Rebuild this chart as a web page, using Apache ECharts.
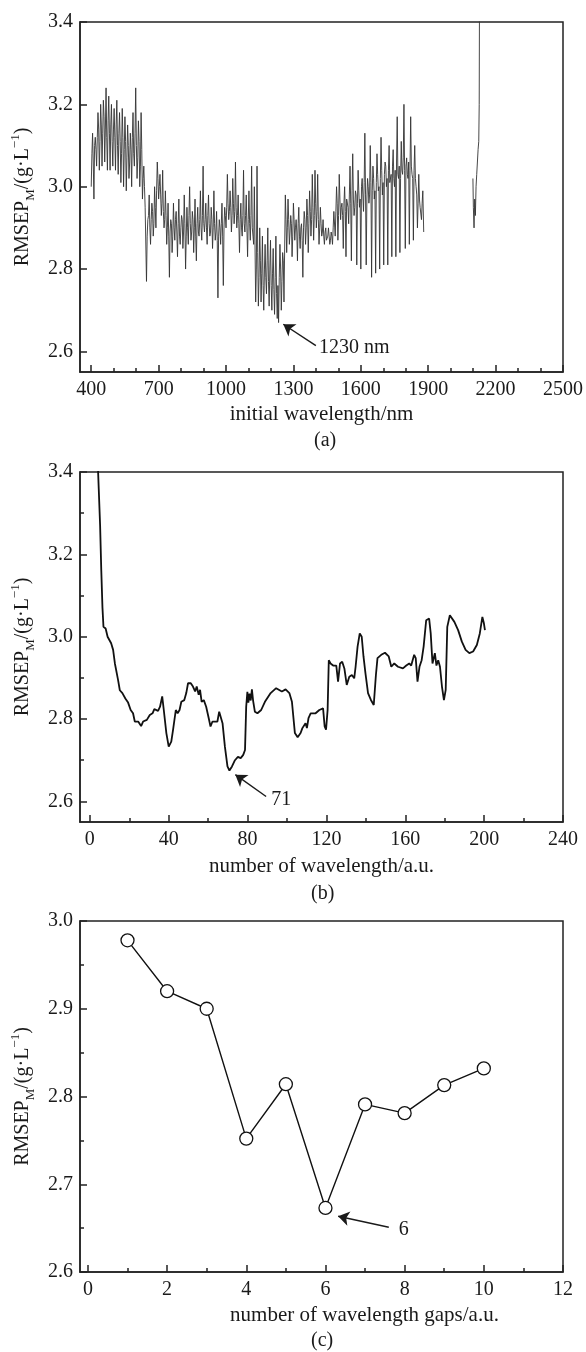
<!DOCTYPE html>
<html><head><meta charset="utf-8">
<script src="https://cdn.jsdelivr.net/npm/echarts@6/dist/echarts.min.js"></script>
<style>html,body{margin:0;padding:0;background:#fff}#c{width:586px;height:1352px}</style>
</head><body><div id="c"></div>
<script>
// ---------- Panel (a): RMSEP vs initial wavelength ----------
// band extremes (spikes)
const scanA_400_640 = [[400,3.00],[406,3.13],[412,2.97],[418,3.12],[424,3.05],[430,3.18],[436,3.04],[442,3.20],[448,3.05],[454,3.21],[460,3.06],[466,3.24],[472,3.04],[478,3.22],[484,3.04],[490,3.20],[496,3.05],[502,3.19],[508,3.04],[514,3.21],[520,3.03],[526,3.18],[532,3.01],[538,3.19],[544,3.00],[550,3.17],[556,2.99],[562,3.15],[568,3.02],[574,3.13],[580,3.00],[586,3.18],[592,3.05],[598,3.24],[604,3.02],[610,3.16],[616,3.00],[622,3.18],[628,2.97],[634,3.05],[640,2.95]];
const scanA_646_1126 = [[646,2.77],[652,2.92],[658,2.98],[664,2.86],[670,2.96],[676,2.88],[682,3.00],[688,2.90],[694,3.06],[700,2.97],[706,3.03],[712,2.93],[718,3.04],[724,2.90],[730,2.99],[736,2.86],[742,2.96],[748,2.78],[754,2.92],[760,2.84],[766,2.96],[772,2.87],[778,2.94],[784,2.83],[790,2.97],[796,2.86],[802,2.93],[808,2.85],[814,2.98],[820,2.80],[826,2.95],[832,2.86],[838,3.00],[844,2.87],[850,2.94],[856,2.84],[862,2.97],[868,2.82],[874,2.95],[880,2.88],[886,2.99],[892,2.87],[898,3.05],[904,2.89],[910,2.96],[916,2.86],[922,2.98],[928,2.88],[934,2.95],[940,2.85],[946,2.99],[952,2.87],[958,2.94],[964,2.73],[970,2.92],[976,2.86],[982,2.96],[988,2.76],[994,2.95],[1000,2.90],[1006,3.03],[1012,2.92],[1018,2.99],[1024,2.89],[1030,3.02],[1036,2.91],[1042,3.06],[1048,2.90],[1054,2.98],[1060,2.84],[1066,2.96],[1072,2.88],[1078,3.04],[1084,2.89],[1090,2.98],[1096,2.83],[1102,2.99],[1108,2.87],[1114,3.05],[1120,2.88],[1126,3.00]];
const scanA_1132_1258 = [[1132,2.72],[1138,3.05],[1144,2.71],[1150,2.90],[1156,2.72],[1162,2.88],[1168,2.70],[1174,2.86],[1180,2.74],[1186,2.90],[1192,2.71],[1198,2.87],[1204,2.70],[1210,2.85],[1216,2.69],[1222,2.88],[1228,2.68],[1234,2.67],[1240,2.86],[1246,2.70],[1252,2.84],[1258,2.72]];
const scanA_1264_1480 = [[1264,2.98],[1270,2.84],[1276,2.97],[1282,2.86],[1288,2.93],[1294,2.83],[1300,2.96],[1306,2.87],[1312,2.92],[1318,2.82],[1324,2.95],[1330,2.85],[1336,2.91],[1342,2.78],[1348,2.94],[1354,2.86],[1360,2.97],[1366,2.84],[1372,2.99],[1378,2.88],[1384,3.03],[1390,2.87],[1396,3.04],[1402,2.90],[1408,3.03],[1414,2.86],[1420,2.95],[1426,2.88],[1432,2.92],[1438,2.86],[1444,2.90],[1450,2.87],[1456,2.90],[1462,2.86],[1468,2.89],[1474,2.86],[1480,2.94]];
const scanA_1486_1880 = [[1486,2.88],[1492,3.00],[1498,2.87],[1504,3.03],[1510,2.92],[1516,2.96],[1522,2.85],[1528,3.00],[1534,2.83],[1540,2.97],[1546,2.91],[1552,3.05],[1558,2.82],[1564,3.08],[1570,2.93],[1576,2.99],[1582,2.81],[1588,3.04],[1594,2.95],[1600,2.80],[1606,3.02],[1612,2.94],[1618,3.13],[1624,2.81],[1630,3.02],[1636,2.96],[1642,3.10],[1648,2.78],[1654,3.05],[1660,2.97],[1666,2.79],[1672,3.08],[1678,2.99],[1684,2.80],[1690,3.12],[1696,2.98],[1702,2.81],[1708,3.06],[1714,3.00],[1720,2.81],[1726,3.10],[1732,3.01],[1738,2.83],[1744,3.09],[1750,3.00],[1756,2.83],[1762,3.17],[1768,3.02],[1774,2.84],[1780,3.11],[1786,3.03],[1792,3.20],[1798,2.85],[1804,3.07],[1810,3.02],[1816,2.86],[1822,3.17],[1828,3.03],[1834,2.87],[1840,3.10],[1846,3.00],[1852,2.90],[1858,3.03],[1864,2.95],[1870,2.92],[1876,2.99],[1880,2.89]];
// dense central band between the spikes
const bandA_403_637 = [[403,3.08],[409,3.06],[415,3.10],[421,3.09],[427,3.12],[433,3.14],[439,3.11],[445,3.15],[451,3.13],[457,3.17],[463,3.14],[469,3.12],[475,3.16],[481,3.13],[487,3.15],[493,3.11],[499,3.14],[505,3.12],[511,3.15],[517,3.10],[523,3.13],[529,3.11],[535,3.08],[541,3.12],[547,3.09],[553,3.11],[559,3.07],[565,3.10],[571,3.06],[577,3.09],[583,3.12],[589,3.08],[595,3.13],[601,3.10],[607,3.07],[613,3.11],[619,3.05],[625,3.09],[631,3.02],[637,3.00]];
const bandA_649_1123 = [[649,2.88],[655,2.93],[661,2.90],[667,2.92],[673,2.94],[679,2.91],[685,2.95],[691,2.99],[697,3.02],[703,3.00],[709,2.98],[715,2.96],[721,2.94],[727,2.92],[733,2.93],[739,2.90],[745,2.88],[751,2.89],[757,2.91],[763,2.88],[769,2.90],[775,2.92],[781,2.89],[787,2.91],[793,2.88],[799,2.90],[805,2.92],[811,2.89],[817,2.91],[823,2.88],[829,2.90],[835,2.93],[841,2.91],[847,2.89],[853,2.92],[859,2.90],[865,2.88],[871,2.91],[877,2.89],[883,2.92],[889,2.90],[895,2.93],[901,2.91],[907,2.92],[913,2.90],[919,2.93],[925,2.91],[931,2.89],[937,2.92],[943,2.90],[949,2.91],[955,2.89],[961,2.87],[967,2.88],[973,2.90],[979,2.91],[985,2.88],[991,2.90],[997,2.93],[1003,2.95],[1009,2.96],[1015,2.94],[1021,2.95],[1027,2.93],[1033,2.96],[1039,2.94],[1045,2.95],[1051,2.93],[1057,2.91],[1063,2.92],[1069,2.90],[1075,2.93],[1081,2.91],[1087,2.93],[1093,2.90],[1099,2.92],[1105,2.91],[1111,2.93],[1117,2.90],[1123,2.86]];
const bandA_1135_1255 = [[1135,2.80],[1141,2.84],[1147,2.78],[1153,2.82],[1159,2.79],[1165,2.76],[1171,2.80],[1177,2.78],[1183,2.82],[1189,2.77],[1195,2.80],[1201,2.76],[1207,2.79],[1213,2.75],[1219,2.78],[1225,2.74],[1231,2.76],[1237,2.78],[1243,2.80],[1249,2.77],[1255,2.82]];
const bandA_1267_1477 = [[1267,2.92],[1273,2.90],[1279,2.92],[1285,2.89],[1291,2.91],[1297,2.88],[1303,2.92],[1309,2.90],[1315,2.89],[1321,2.91],[1327,2.88],[1333,2.90],[1339,2.87],[1345,2.90],[1351,2.92],[1357,2.90],[1363,2.93],[1369,2.91],[1375,2.94],[1381,2.92],[1387,2.95],[1393,2.93],[1399,2.96],[1405,2.94],[1411,2.92],[1417,2.90],[1423,2.91],[1429,2.89],[1435,2.88],[1441,2.89],[1447,2.87],[1453,2.88],[1459,2.88],[1465,2.87],[1471,2.88],[1477,2.90]];
const bandA_1489_1873 = [[1489,2.94],[1495,2.96],[1501,2.93],[1507,2.97],[1513,2.95],[1519,2.93],[1525,2.96],[1531,2.94],[1537,2.97],[1543,2.95],[1549,2.98],[1555,2.96],[1561,2.99],[1567,2.97],[1573,2.95],[1579,2.98],[1585,2.96],[1591,2.99],[1597,2.97],[1603,3.00],[1609,2.98],[1615,3.01],[1621,2.98],[1627,2.97],[1633,3.00],[1639,2.98],[1645,3.01],[1651,2.99],[1657,3.02],[1663,2.99],[1669,3.01],[1675,3.03],[1681,3.00],[1687,3.02],[1693,3.04],[1699,3.01],[1705,3.03],[1711,3.05],[1717,3.02],[1723,3.04],[1729,3.01],[1735,3.03],[1741,3.05],[1747,3.02],[1753,3.04],[1759,3.06],[1765,3.03],[1771,3.05],[1777,3.02],[1783,3.04],[1789,3.07],[1795,3.04],[1801,3.05],[1807,3.03],[1813,3.06],[1819,3.04],[1825,3.05],[1831,3.02],[1837,3.04],[1843,3.02],[1849,2.98],[1855,2.96],[1861,2.97],[1867,2.95],[1873,2.96]];
const scanA_2099_2129 = [[2099,3.02],[2101,2.95],[2104,2.90],[2107,2.97],[2110,2.93],[2113,3.00],[2116,3.03],[2119,3.06],[2122,3.09],[2125,3.11],[2127,3.20],[2129,3.60]];
const xMajorA = [400,700,1000,1300,1600,1900,2200,2500];
const xMinorA = [500,600,800,900,1100,1200,1400,1500,1700,1800,2000,2100,2300,2400];
const yMajorA = [2.6,2.8,3.0,3.2,3.4];
const annotA = {tail:[1400,2.614], tip:[1255,2.666], textAt:[1405,2.608], text:'1230 nm'};

// ---------- Panel (b): RMSEP vs number of wavelengths ----------
const numB = [3.8,4.5,5.2,5.8,6.4,6.9,8,9,10.8,11.8,12.7,14.3,15.2,16.5,18,19.4,20.7,21.9,22.8,24.5,26,27,28.9,30.4,31.8,32.7,34.6,35.6,36.7,37.5,38.8,40,41.3,42.2,43.6,44.5,45.5,46.4,47.9,48.9,49.8,51.2,52.3,53.4,54.2,55.2,55.9,56.7,57.8,59,60.3,61.2,62.2,64.7,65.6,66.6,67.3,68.5,69.8,70.8,72.1,73.6,75.1,76.5,77.8,78.7,79.3,79.9,80.4,81,81.6,82.2,82.8,83.7,85,86.9,88.8,91.7,94.5,97.4,99.3,101.2,102.5,104,105.4,106.9,107.8,108.8,109.4,110.1,110.9,112,114.5,116.4,118.3,119.1,119.8,120.6,121.2,122.1,123.4,125,125.9,126.9,128,129.1,130.3,131.6,132.9,134.1,134.8,135.8,136.9,137.9,138.8,139.8,141.1,142.5,144,145.1,145.9,147.8,149.7,151.6,152.9,154.4,156.3,158.8,160.5,162,163,164.5,165.3,166.2,167.2,168.3,169.3,170.6,172.1,172.9,173.8,175,175.8,176.7,177.6,178.6,179.6,180.5,181.3,182.6,184.9,186.8,188.7,190.6,192.5,194.4,196.3,197.8,199.1,199.9,200.4];
const rmsepB = [3.45,3.36,3.27,3.16,3.07,3.024,3.02,3.0,2.984,2.968,2.935,2.895,2.87,2.863,2.85,2.84,2.822,2.814,2.794,2.794,2.783,2.794,2.798,2.81,2.814,2.824,2.82,2.83,2.855,2.822,2.766,2.733,2.745,2.774,2.822,2.814,2.822,2.842,2.846,2.863,2.887,2.887,2.879,2.867,2.879,2.859,2.871,2.842,2.846,2.83,2.802,2.782,2.794,2.794,2.818,2.814,2.79,2.733,2.685,2.675,2.685,2.7,2.708,2.705,2.713,2.725,2.83,2.866,2.84,2.862,2.845,2.872,2.845,2.818,2.814,2.822,2.842,2.863,2.875,2.867,2.872,2.863,2.842,2.766,2.756,2.766,2.778,2.774,2.79,2.778,2.802,2.814,2.814,2.822,2.826,2.782,2.774,2.822,2.943,2.935,2.93,2.93,2.891,2.935,2.939,2.923,2.883,2.903,2.907,2.899,2.927,2.976,3.008,3.0,2.952,2.911,2.863,2.847,2.834,2.907,2.948,2.956,2.961,2.952,2.927,2.935,2.927,2.923,2.93,2.935,2.93,2.956,2.948,2.891,2.927,2.943,2.976,3.04,3.044,3.008,2.935,2.96,2.93,2.943,2.927,2.879,2.846,2.871,3.024,3.052,3.036,3.016,2.988,2.968,2.96,2.964,2.98,3.008,3.048,3.032,3.016];
const xMajorB = [0,40,80,120,160,200,240];
const xMinorB = [20,60,100,140,180,220];
const yMajorB = [2.6,2.8,3.0,3.2,3.4];
const yMinorB = [2.7,2.9,3.1,3.3];
const annotB = {tail:[89.4,2.612], tip:[73.8,2.665], textAt:[91,2.604], text:'71'};

// ---------- Panel (c): RMSEP vs number of wavelength gaps ----------
const gapsC = [1,2,3,4,5,6,7,8,9,10];
const rmsepC = [2.978,2.920,2.900,2.752,2.814,2.673,2.791,2.781,2.813,2.832];
const xMajorC = [0,2,4,6,8,10,12];
const xMinorC = [1,3,5,7,9,11];
const yMajorC = [2.6,2.7,2.8,2.9,3.0];
const yMinorC = [2.65,2.75,2.85,2.95];
const annotC = {tail:[7.6,2.651], tip:[6.32,2.6635], textAt:[7.8,2.648], text:'6'};

const panelLabels = ['(a)','(b)','(c)'];
const xNames = ['initial wavelength/nm','number of wavelength/a.u.','number of wavelength gaps/a.u.'];
const yName = '{t|RMSEP}{s|M}{t|/(g\u00B7L}{p|\u22121}{t|)}';

// ---------- build ----------
const FONT = '"Liberation Serif","Times New Roman",serif';
const INK = '#1a1a1a';
const grids = [
  {left:80, top:22, width:483, height:350},
  {left:80, top:472, width:483, height:350},
  {left:80, top:921, width:483, height:351}
].map(g => Object.assign({show:true, borderColor:'#222', borderWidth:1.5, containLabel:false}, g));

const ranges = [
  {x:[350,2500], y:[2.55,3.4], xM:xMajorA, xm:xMinorA, yM:yMajorA, ym:[], gap:32, pad:[0,0,0,0]},
  {x:[-5,240], y:[2.55,3.4], xM:xMajorB, xm:xMinorB, yM:yMajorB, ym:yMinorB, gap:34, pad:[0,0,0,0]},
  {x:[-0.2,12], y:[2.6,3.0], xM:xMajorC, xm:xMinorC, yM:yMajorC, ym:yMinorC, gap:33, pad:[0,0,0,86]}
];

const xAxes = [], yAxes = [];
ranges.forEach((r, i) => {
  xAxes.push({
    type:'value', gridIndex:i, position:'bottom', min:r.x[0], max:r.x[1],
    axisLine:{show:true, onZero:false, lineStyle:{color:'#222', width:1.5}},
    axisTick:{show:true, inside:true, length:7, customValues:r.xM, lineStyle:{color:'#222', width:1.5}},
    axisLabel:{show:true, customValues:r.xM, color:INK, fontFamily:FONT, fontSize:20, margin:8,
      formatter: v => String(Math.round(v))},
    splitLine:{show:false},
    name:xNames[i], nameLocation:'middle', nameGap:r.gap,
    nameTextStyle:{fontFamily:FONT, fontSize:21, color:INK, padding:r.pad}
  });
  xAxes.push({
    type:'value', gridIndex:i, position:'bottom', min:r.x[0], max:r.x[1],
    axisLine:{show:false, onZero:false},
    axisTick:{show:true, inside:true, length:4, customValues:r.xm, lineStyle:{color:'#222', width:1.5}},
    axisLabel:{show:false}, splitLine:{show:false}
  });
  yAxes.push({
    type:'value', gridIndex:i, position:'left', min:r.y[0], max:r.y[1],
    axisLine:{show:true, onZero:false, lineStyle:{color:'#222', width:1.5}},
    axisTick:{show:true, inside:true, length:7, customValues:r.yM, lineStyle:{color:'#222', width:1.5}},
    axisLabel:{show:true, customValues:r.yM, color:INK, fontFamily:FONT, fontSize:20, margin:7,
      formatter: v => v.toFixed(1)},
    splitLine:{show:false},
    name:yName, nameLocation:'middle', nameRotate:90, nameGap:42,
    nameTextStyle:{fontFamily:FONT, fontSize:20, color:INK,
      rich:{
        t:{fontFamily:FONT, fontSize:20, color:INK, lineHeight:28, verticalAlign:'middle'},
        s:{fontFamily:FONT, fontSize:13, color:INK, lineHeight:13, verticalAlign:'bottom'},
        p:{fontFamily:FONT, fontSize:13, color:INK, lineHeight:13, verticalAlign:'top'}
      }}
  });
  yAxes.push({
    type:'value', gridIndex:i, position:'left', min:r.y[0], max:r.y[1],
    axisLine:{show:false, onZero:false},
    axisTick:{show: r.ym.length>0, inside:true, length:4, customValues:r.ym.length? r.ym : [r.y[0]], lineStyle:{color:'#222', width:1.5}},
    axisLabel:{show:false}, splitLine:{show:false}
  });
});

function arrow(a) {
  return {
    silent:true, symbol:['none','arrow'], symbolSize:11,
    itemStyle:{color:INK},
    lineStyle:{color:INK, width:1.4, type:'solid'}, label:{show:false},
    data:[[{coord:a.tail},{coord:a.tip}]]
  };
}
function note(a) {
  return {
    silent:true, symbol:'circle', symbolSize:0,
    label:{show:true, position:'right', distance:2, formatter:a.text, fontFamily:FONT, fontSize:20, color:INK},
    data:[{coord:a.textAt}]
  };
}

const scanA = [].concat(scanA_400_640, scanA_646_1126, scanA_1132_1258, scanA_1264_1480, scanA_1486_1880,
  bandA_403_637, bandA_649_1123, bandA_1135_1255, bandA_1267_1477, bandA_1489_1873)
  .sort((p, q) => p[0] - q[0]);

const series = [
  {type:'line', xAxisIndex:0, yAxisIndex:0, data:scanA, showSymbol:false, symbol:'none',
   lineStyle:{color:'#333', width:0.9}, clip:true, markLine:arrow(annotA), markPoint:note(annotA)},
  {type:'line', xAxisIndex:0, yAxisIndex:0, data:scanA_2099_2129, showSymbol:false, symbol:'none',
   lineStyle:{color:'#333', width:0.9}, clip:true},
  {type:'line', xAxisIndex:2, yAxisIndex:2, data:numB.map((x,k)=>[x, rmsepB[k]]), showSymbol:false, symbol:'none',
   lineStyle:{color:'#111', width:1.8}, clip:true, markLine:arrow(annotB), markPoint:note(annotB)},
  {type:'line', xAxisIndex:4, yAxisIndex:4, data:gapsC.map((x,k)=>[x, rmsepC[k]]), symbol:'circle', symbolSize:13,
   itemStyle:{color:'#fff', borderColor:'#111', borderWidth:1.3},
   lineStyle:{color:'#111', width:1.4}, clip:false, markLine:arrow(annotC), markPoint:note(annotC)}
];

const titles = panelLabels.map((t, i) => ({
  text:t, left:[314,311,311][i], top:[431,884,1331][i], padding:0,
  textStyle:{fontFamily:FONT, fontSize:20, fontWeight:'normal', color:INK}
}));

const chart = echarts.init(document.getElementById('c'), null, {renderer:'canvas'});
chart.setOption({
  animation:false, backgroundColor:'#fff',
  title:titles, grid:grids, xAxis:xAxes, yAxis:yAxes, series:series
});
</script></body></html>
